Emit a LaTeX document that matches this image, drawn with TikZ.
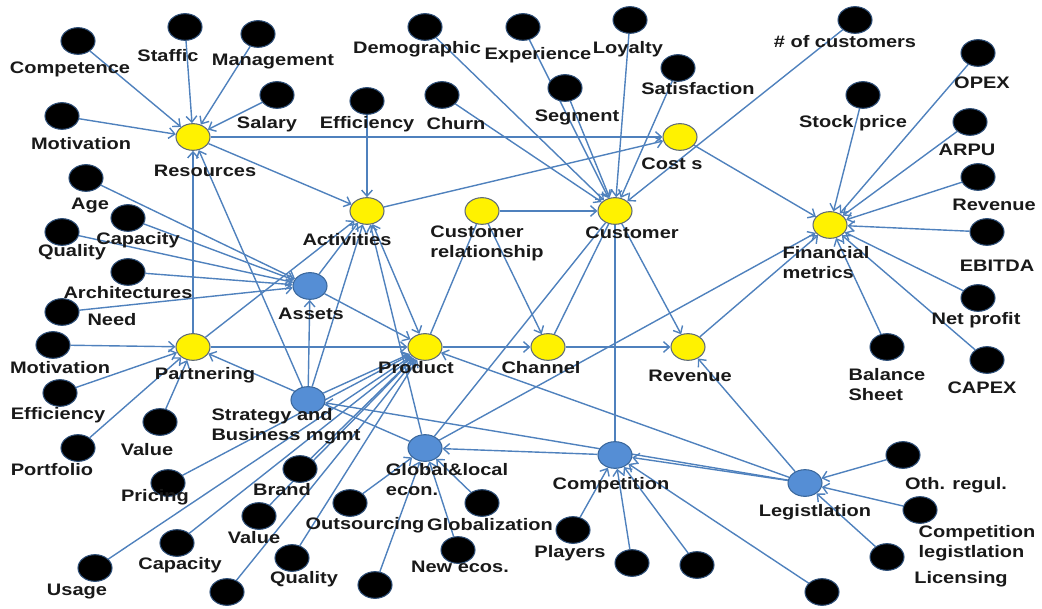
\documentclass[tikz,border=0pt]{standalone}
\usepackage{fontspec}
\setmainfont{Liberation Sans}[FakeStretch=1.2]
\usetikzlibrary{arrows.meta,shapes.geometric}
\definecolor{edgec}{HTML}{4F81BD}
\definecolor{bfill}{HTML}{558ED5}
\definecolor{bdraw}{HTML}{3A679C}
\definecolor{ydraw}{HTML}{5F6B78}
\definecolor{kdraw}{HTML}{2E4F78}
\pgfdeclarelayer{bg}
\pgfsetlayers{bg,main}
\begin{document}
\begin{tikzpicture}[x=0.75pt,y=-0.75pt,
  base/.style={ellipse, minimum width=25.5pt, minimum height=20pt, inner sep=0pt, line width=0.8pt},
  blk/.style={base, fill=black, draw=kdraw},
  yel/.style={base, fill=yellow, draw=ydraw},
  blu/.style={base, fill=bfill, draw=bdraw},
  lab/.style={font=\bfseries\fontsize{12.5}{15}\selectfont, inner sep=0pt, align=left, text=black!90},
  conn/.style={draw=edgec, line width=1.05pt},
  arr/.style={conn, -{Straight Barb[length=4.5pt,width=8pt]}},
  barr/.style={conn, {Straight Barb[length=4.5pt,width=8pt]}-{Straight Barb[length=4.5pt,width=8pt]}}]
\useasboundingbox (0,0) rectangle (1042,609);
% black nodes
\node[blk] (comp) at (78,41) {};
\node[blk] (staf) at (185,27) {};
\node[blk] (mgmt) at (258,34) {};
\node[blk] (sal) at (277,95) {};
\node[blk] (motA) at (62,116) {};
\node[blk] (age) at (86,178) {};
\node[blk] (capA) at (128,218) {};
\node[blk] (qualA) at (62,232) {};
\node[blk] (arch) at (128,272) {};
\node[blk] (need) at (62,312) {};
\node[blk] (motB) at (53,345) {};
\node[blk] (effB) at (60,393) {};
\node[blk] (port) at (78,448) {};
\node[blk] (valA) at (160,422) {};
\node[blk] (pric) at (168,483) {};
\node[blk] (usage) at (95,568) {};
\node[blk] (capB) at (177,543) {};
\node[blk] (brand) at (300,469) {};
\node[blk] (valB) at (259,516) {};
\node[blk] (qualB) at (292,558) {};
\node[blk] (nb1) at (227,592) {};
\node[blk] (outs) at (350,503) {};
\node[blk] (nb2) at (375,585) {};
\node[blk] (glob) at (482,503) {};
\node[blk] (newe) at (458,550) {};
\node[blk] (play) at (573,530) {};
\node[blk] (nb3) at (632,563) {};
\node[blk] (nb4) at (697,565) {};
\node[blk] (nb5) at (822,592) {};
\node[blk] (othr) at (903,455) {};
\node[blk] (coml) at (920,510) {};
\node[blk] (lic) at (887,557) {};
\node[blk] (effA) at (367,101) {};
\node[blk] (churn) at (442,95) {};
\node[blk] (demo) at (425,27) {};
\node[blk] (exper) at (523,27) {};
\node[blk] (seg) at (565,88) {};
\node[blk] (loy) at (630,20) {};
\node[blk] (sat) at (678,68) {};
\node[blk] (ncust) at (855,20) {};
\node[blk] (stock) at (863,95) {};
\node[blk] (opex) at (978,53) {};
\node[blk] (arpu) at (970,122) {};
\node[blk] (revR) at (978,177) {};
\node[blk] (ebitda) at (987,232) {};
\node[blk] (netp) at (978,298) {};
\node[blk] (bal) at (887,347) {};
\node[blk] (capex) at (987,360) {};
% yellow nodes
\node[yel] (res) at (193,137) {};
\node[yel] (act) at (367,211) {};
\node[yel] (cr) at (482,211) {};
\node[yel] (cust) at (615,211) {};
\node[yel] (costs) at (680,137) {};
\node[yel] (fm) at (830,225) {};
\node[yel] (part) at (193,347) {};
\node[yel] (prod) at (425,347) {};
\node[yel] (chan) at (548,347) {};
\node[yel] (rev) at (688,347) {};
% blue nodes
\node[blu] (assets) at (310,286) {};
\node[blu] (strat) at (308,400) {};
\node[blu] (gle) at (425,448) {};
\node[blu] (compet) at (615,455) {};
\node[blu] (legis) at (805,483) {};
% labels
\node[lab] (l1) at (70,69) {Competence};
\node[lab] (l2) at (168,56) {Staffic};
\node[lab] (l3) at (273,62) {Management};
\node[lab] (l4) at (267,124) {Salary};
\node[lab] (l5) at (81,144) {Motivation};
\node[lab] (l6) at (90,206) {Age};
\node[lab] (l7) at (205,171) {Resources};
\node[lab] (l8) at (367,124) {Efficiency};
\node[lab] (l9) at (456,124) {Churn};
\node[lab] (l10) at (417,49) {Demographic};
\node[lab] (l11) at (538,55) {Experience};
\node[lab] (l12) at (628,49) {Loyalty};
\node[lab] (l13) at (698,89) {Satisfaction};
\node[lab] (l14) at (577,117) {Segment};
\node[lab] (l15) at (672,164) {Cost s};
\node[lab] (l16) at (845,42) {\# of customers};
\node[lab] (l17) at (982,83) {OPEX};
\node[lab] (l18) at (853,123) {Stock price};
\node[lab] (l19) at (967,150) {ARPU};
\node[lab] (l20) at (994,205) {Revenue};
\node[lab] (l21) at (826,263) {Financial\\metrics};
\node[lab] (l22) at (997,266) {EBITDA};
\node[lab] (l23) at (976,320) {Net profit};
\node[lab] (l24) at (887,385) {Balance\\Sheet};
\node[lab] (l25) at (982,388) {CAPEX};
\node[lab] (l26) at (690,376) {Revenue};
\node[lab] (l27) at (138,240) {Capacity};
\node[lab] (l28) at (72,252) {Quality};
\node[lab] (l29) at (128,293) {Architectures};
\node[lab] (l30) at (112,320) {Need};
\node[lab] (l31) at (60,368) {Motivation};
\node[lab] (l32) at (205,375) {Partnering};
\node[lab] (l33) at (311,314) {Assets};
\node[lab] (l34) at (347,240) {Activities};
\node[lab] (l35) at (487,243) {Customer\\relationship};
\node[lab] (l36) at (632,233) {Customer};
\node[lab] (l37) at (416,368) {Product};
\node[lab] (l38) at (541,368) {Channel};
\node[lab] (l39) at (58,415) {Efficiency};
\node[lab] (l40) at (52,470) {Portfolio};
\node[lab] (l41) at (147,450) {Value};
\node[lab] (l42) at (155,497) {Pricing};
\node[lab] (l43) at (77,592) {Usage};
\node[lab] (l44) at (180,565) {Capacity};
\node[lab] (l45) at (282,490) {Brand};
\node[lab] (l46) at (254,538) {Value};
\node[lab] (l47) at (304,579) {Quality};
\node[lab] (l48) at (286,426) {Strategy and\\Business mgmt};
\node[lab] (l49) at (365,525) {Outsourcing};
\node[lab] (l50) at (447,480) {Global\&local\\econ.};
\node[lab] (l51) at (490,525) {Globalization};
\node[lab] (l52) at (460,567) {New ecos.};
\node[lab] (l53) at (611,485) {Competition};
\node[lab] (l54) at (570,553) {Players};
\node[lab] (l55) at (815,512) {Legistlation};
\node[lab] (l56) at (956,485) {Oth. regul.};
\node[lab] (l57) at (977,543) {Competition\\legistlation};
\node[lab] (l58) at (961,579) {Licensing};
\begin{pgfonlayer}{bg}
% resources
\foreach \s in {comp,staf,mgmt,sal,motA,part,strat} \draw[arr] (\s) -- (res);
\draw[arr] (res) -- (costs);
\draw[arr] (res) -- (act);
% activities
\foreach \s in {effA,part,assets,strat,gle} \draw[arr] (\s) -- (act);
\draw[arr] (act) -- (costs);
\draw[barr] (act) -- (prod);
% customer
\foreach \s in {demo,exper,loy,sat,seg,churn,ncust,cr} \draw[arr] (\s) -- (cust);
\draw[arr] (cust) -- (rev);
\draw[conn] (chan) -- (cust);
\draw[conn] (gle) -- (cust);
\draw[conn] (compet) -- (cust);
% product / channel
\draw[conn] (prod) -- (cr);
\draw[arr] (cr) -- (chan);
\draw[arr] (prod) -- (chan);
\draw[arr] (chan) -- (rev);
\draw[arr] (part) -- (prod);
\draw[arr] (assets) -- (prod);
\foreach \s in {pric,usage,capB,brand,valB,qualB,nb1,strat} \draw[arr] (\s) -- (prod);
% assets
\foreach \s in {strat,age,capA,qualA,arch,need} \draw[arr] (\s) -- (assets);
% partnering
\foreach \s in {motB,effB,port,valA,gle} \draw[arr] (\s) -- (part);
% global & local
\foreach \s in {outs,nb2,glob,newe,compet} \draw[arr] (\s) -- (gle);
% competition
\foreach \s in {play,nb3,nb4,nb5,legis} \draw[arr] (\s) -- (compet);
% legislation
\draw[arr] (legis) -- (rev);
\draw[arr] (legis) -- (prod);
\draw[arr] (legis) -- (strat);
\foreach \s in {othr,coml,lic} \draw[arr] (\s) -- (legis);
% financial metrics
\foreach \s in {stock,opex,arpu,revR,ebitda,netp,bal,capex,costs,rev,gle} \draw[arr] (\s) -- (fm);
\end{pgfonlayer}
\end{tikzpicture}
\end{document}
